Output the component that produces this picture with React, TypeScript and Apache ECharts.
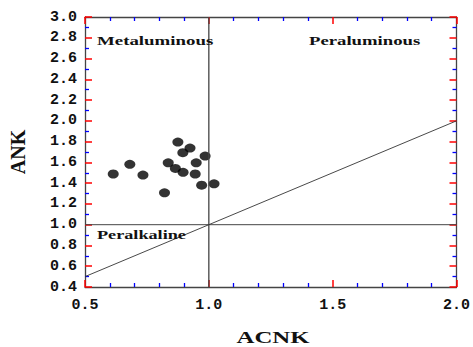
import React, { useEffect, useRef } from "react";
import * as echarts from "echarts";

const acnk = [0.614, 0.681, 0.734, 0.821, 0.836, 0.865, 0.875, 0.895, 0.896, 0.924, 0.949, 0.945, 0.971, 0.985, 1.021];
const ank = [1.488, 1.581, 1.478, 1.307, 1.596, 1.542, 1.796, 1.693, 1.504, 1.738, 1.596, 1.488, 1.381, 1.661, 1.394];

const verticalLine = [[1.0, 0.4], [1.0, 3.0]];
const horizontalLine = [[0.5, 1.0], [2.0, 1.0]];
const diagonalLine = [[0.5, 0.5], [2.0, 2.0]];

const regionLabels = ["Metaluminous", "Peraluminous", "Peralkaline"];
const xTitle = "ACNK";
const yTitle = "ANK";

export default function App() {
  const ref = useRef<HTMLDivElement>(null);
  useEffect(() => {
    if (!ref.current) return;
    const chart = echarts.init(ref.current, null, { renderer: "svg" });
    const frame = "#444";
    const tickColor = "red";
    const tickFont = {
      fontFamily: "Liberation Mono",
      fontWeight: "bold" as const,
      fontSize: 15,
      color: "#111",
    };
    const mk = (extra: any, split: number) => ({
      type: "value",
      axisLine: { show: true, onZero: false, lineStyle: { color: frame, width: 1.3 } },
      axisTick: { show: true, inside: true, length: 7, lineStyle: { color: tickColor, width: 1.5 } },
      minorTick: { show: true, splitNumber: split, length: 4, lineStyle: { color: "blue", width: 1.3 } },
      splitLine: { show: false },
      ...extra,
    });
    const serif = "Liberation Serif";
    chart.setOption({
      animation: false,
      backgroundColor: "#fff",
      grid: { left: 85, right: 14, top: 17, bottom: 60 },
      xAxis: [
        mk({ min: 0.5, max: 2.0, interval: 0.5, position: "bottom",
          axisLabel: { ...tickFont, margin: 11, formatter: (v: number) => v.toFixed(1) } }, 5),
        mk({ min: 0.5, max: 2.0, interval: 0.5, position: "top", axisLabel: { show: false } }, 5),
      ],
      yAxis: [
        mk({ min: 0.4, max: 3.0, interval: 0.2, position: "left",
          axisLabel: { ...tickFont, margin: 8, formatter: (v: number) => v.toFixed(1) } }, 2),
        mk({ min: 0.4, max: 3.0, interval: 0.2, position: "right", axisLabel: { show: false } }, 2),
      ],
      series: [
        { type: "line", data: verticalLine, symbol: "none", lineStyle: { color: "#444", width: 1.3 }, silent: true },
        { type: "line", data: horizontalLine, symbol: "none", lineStyle: { color: "#444", width: 1 }, silent: true },
        { type: "line", data: diagonalLine, symbol: "none", lineStyle: { color: "#333", width: 0.9 }, silent: true },
        {
          type: "scatter",
          data: acnk.map((x, i) => [x, ank[i]]),
          symbol: "circle",
          symbolSize: [11, 9],
          itemStyle: { color: "#000" },
        },
      ],
      graphic: [
        { type: "text", x: 97, y: 41, scaleX: 1.45, z: 10, style: { text: regionLabels[0], font: `bold 13px "${serif}"`, fill: "#111", align: "left", verticalAlign: "middle" } },
        { type: "text", x: 309, y: 41, scaleX: 1.44, z: 10, style: { text: regionLabels[1], font: `bold 13px "${serif}"`, fill: "#111", align: "left", verticalAlign: "middle" } },
        { type: "text", x: 97, y: 234, scaleX: 1.4, z: 10, style: { text: regionLabels[2], font: `bold 13px "${serif}"`, fill: "#111", align: "left", verticalAlign: "middle" } },
        { type: "text", x: 273, y: 337, scaleX: 1.46, z: 10, style: { text: xTitle, font: `bold 17px "${serif}"`, fill: "#111", align: "center", verticalAlign: "middle" } },
        { type: "text", x: 18, y: 152, rotation: Math.PI / 2, z: 10, style: { text: yTitle, font: `bold 20px "${serif}"`, fill: "#111", align: "center", verticalAlign: "middle" } },
      ],
    });
    return () => chart.dispose();
  }, []);
  return <div ref={ref} style={{ width: 473, height: 347, position: "absolute", left: 0, top: 0 }} />;
}
